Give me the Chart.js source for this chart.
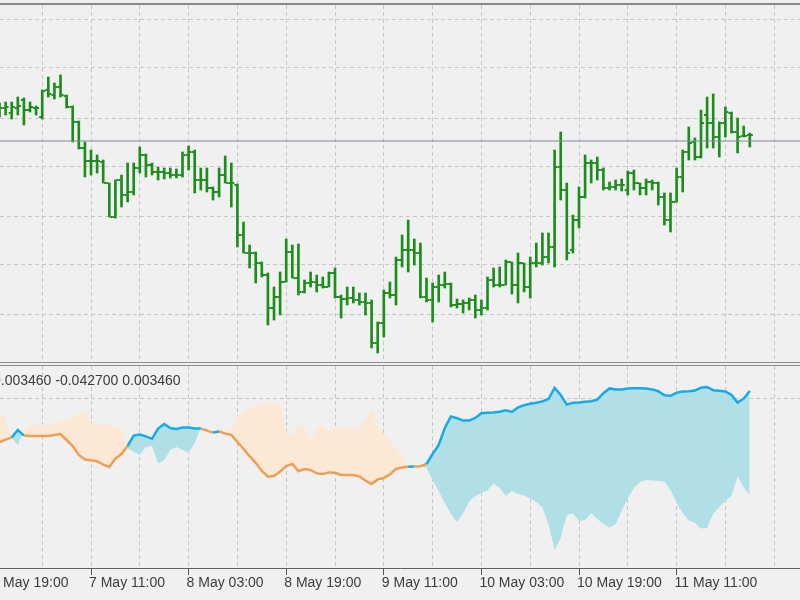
<!DOCTYPE html>
<html>
<head>
<meta charset="utf-8">
<script src="https://cdn.jsdelivr.net/npm/chart.js@4.4.1/dist/chart.umd.min.js"></script>
<style>
  body { margin: 0; background: #f0f0f0; }
  #wrap { position: relative; width: 800px; height: 600px; overflow: hidden; background: #f0f0f0; }
  .sep { position: absolute; left: 0; width: 800px; height: 1px; background: #8a8a8a; }
  canvas { position: absolute; left: 0; }
  #indLabel { position: absolute; left: -7px; top: 373px; font: 14px "Liberation Sans", Arial, sans-serif; line-height: 14px; color: #3c3c3c; white-space: nowrap; }
</style>
</head>
<body>
<div id="wrap">
  <div class="sep" style="top:3px;height:2px"></div>
  <canvas id="priceChart" width="800" height="357" style="top:5px"></canvas>
  <div class="sep" style="top:362px"></div>
  <div class="sep" style="top:365px"></div>
  <canvas id="indChart" width="800" height="234" style="top:366px"></canvas>
  <div id="indLabel">0.003460 -0.042700 0.003460</div>
</div>
<script>
// H1 bars, x = hours counted from 7 May 11:00
var FIRST_HOUR = -15;

var opens = [
  1.10288, 1.10292, 1.10287, 1.10292, 1.10300, 1.10290, 1.10292, 1.10283, 1.10310, 1.10305,
  1.10313, 1.10304, 1.10293, 1.10278, 1.10252, 1.10239, 1.10239, 1.10238, 1.10217, 1.10183,
  1.10220, 1.10205, 1.10208, 1.10232, 1.10245, 1.10235, 1.10228, 1.10228, 1.10227, 1.10225,
  1.10225, 1.10245, 1.10248, 1.10220, 1.10220, 1.10212, 1.10208, 1.10225, 1.10217, 1.10215,
  1.10165, 1.10147, 1.10147, 1.10137, 1.10125, 1.10092, 1.10103, 1.10118, 1.10148, 1.10122,
  1.10108, 1.10117, 1.10118, 1.10115, 1.10113, 1.10127, 1.10103, 1.10101, 1.10102, 1.10100,
  1.10098, 1.10097, 1.10057, 1.10077, 1.10107, 1.10105, 1.10140, 1.10150, 1.10150, 1.10147,
  1.10103, 1.10100, 1.10113, 1.10115, 1.10116, 1.10095, 1.10096, 1.10097, 1.10100, 1.10090,
  1.10092, 1.10120, 1.10115, 1.10115, 1.10138, 1.10115, 1.10137, 1.10113, 1.10137, 1.10137,
  1.10143, 1.10153, 1.10233, 1.10210, 1.10150, 1.10180, 1.10203, 1.10237, 1.10237, 1.10230,
  1.10212, 1.10213, 1.10215, 1.10210, 1.10227, 1.10217, 1.10212, 1.10218, 1.10217, 1.10203,
  1.10180, 1.10198, 1.10223, 1.10248, 1.10258, 1.10243, 1.10285, 1.10277, 1.10263, 1.10277,
  1.10287, 1.10268, 1.10264, 1.10265
];
var highs = [
  1.10297, 1.10298, 1.10298, 1.10303, 1.10302, 1.10298, 1.10294, 1.10310, 1.10323, 1.10317,
  1.10325, 1.10305, 1.10294, 1.10279, 1.10258, 1.10250, 1.10245, 1.10240, 1.10217, 1.10220,
  1.10225, 1.10237, 1.10237, 1.10253, 1.10246, 1.10237, 1.10233, 1.10232, 1.10232, 1.10231,
  1.10248, 1.10254, 1.10250, 1.10232, 1.10232, 1.10213, 1.10232, 1.10244, 1.10237, 1.10216,
  1.10178, 1.10155, 1.10148, 1.10138, 1.10127, 1.10113, 1.10128, 1.10161, 1.10155, 1.10156,
  1.10120, 1.10128, 1.10125, 1.10123, 1.10128, 1.10132, 1.10105, 1.10113, 1.10113, 1.10107,
  1.10107, 1.10100, 1.10078, 1.10110, 1.10118, 1.10143, 1.10165, 1.10180, 1.10161, 1.10157,
  1.10122, 1.10117, 1.10125, 1.10128, 1.10117, 1.10101, 1.10100, 1.10102, 1.10105, 1.10100,
  1.10123, 1.10132, 1.10133, 1.10140, 1.10138, 1.10147, 1.10137, 1.10143, 1.10157, 1.10167,
  1.10167, 1.10250, 1.10268, 1.10217, 1.10185, 1.10213, 1.10245, 1.10240, 1.10243, 1.10232,
  1.10218, 1.10220, 1.10221, 1.10229, 1.10230, 1.10217, 1.10221, 1.10220, 1.10218, 1.10207,
  1.10207, 1.10232, 1.10250, 1.10273, 1.10262, 1.10290, 1.10303, 1.10306, 1.10278, 1.10293,
  1.10288, 1.10282, 1.10274, 1.10267
];
var lows = [
  1.10283, 1.10285, 1.10281, 1.10285, 1.10275, 1.10288, 1.10285, 1.10281, 1.10303, 1.10301,
  1.10303, 1.10292, 1.10258, 1.10251, 1.10223, 1.10225, 1.10227, 1.10217, 1.10183, 1.10182,
  1.10193, 1.10198, 1.10205, 1.10227, 1.10223, 1.10225, 1.10220, 1.10221, 1.10222, 1.10222,
  1.10223, 1.10230, 1.10207, 1.10210, 1.10208, 1.10200, 1.10203, 1.10217, 1.10193, 1.10153,
  1.10147, 1.10132, 1.10117, 1.10123, 1.10075, 1.10080, 1.10085, 1.10118, 1.10122, 1.10105,
  1.10107, 1.10113, 1.10108, 1.10112, 1.10113, 1.10102, 1.10082, 1.10095, 1.10097, 1.10095,
  1.10085, 1.10052, 1.10047, 1.10063, 1.10102, 1.10095, 1.10133, 1.10128, 1.10135, 1.10102,
  1.10098, 1.10078, 1.10098, 1.10112, 1.10093, 1.10092, 1.10087, 1.10090, 1.10082, 1.10085,
  1.10090, 1.10113, 1.10113, 1.10115, 1.10106, 1.10097, 1.10108, 1.10102, 1.10133, 1.10135,
  1.10137, 1.10133, 1.10200, 1.10140, 1.10147, 1.10172, 1.10202, 1.10217, 1.10220, 1.10210,
  1.10210, 1.10210, 1.10209, 1.10205, 1.10210, 1.10205, 1.10205, 1.10210, 1.10195, 1.10175,
  1.10168, 1.10198, 1.10208, 1.10240, 1.10240, 1.10242, 1.10252, 1.10252, 1.10243, 1.10263,
  1.10267, 1.10247, 1.10263, 1.10253
];
var closes = [
  1.10292, 1.10293, 1.10293, 1.10294, 1.10290, 1.10293, 1.10292, 1.10309, 1.10306, 1.10313,
  1.10305, 1.10293, 1.10278, 1.10252, 1.10239, 1.10239, 1.10239, 1.10217, 1.10183, 1.10220,
  1.10205, 1.10208, 1.10232, 1.10245, 1.10235, 1.10228, 1.10228, 1.10227, 1.10225, 1.10225,
  1.10245, 1.10248, 1.10220, 1.10220, 1.10212, 1.10208, 1.10225, 1.10217, 1.10217, 1.10165,
  1.10147, 1.10147, 1.10137, 1.10125, 1.10092, 1.10103, 1.10118, 1.10148, 1.10122, 1.10108,
  1.10117, 1.10118, 1.10115, 1.10113, 1.10127, 1.10103, 1.10101, 1.10102, 1.10100, 1.10098,
  1.10097, 1.10057, 1.10077, 1.10107, 1.10105, 1.10140, 1.10150, 1.10150, 1.10147, 1.10103,
  1.10100, 1.10113, 1.10115, 1.10116, 1.10095, 1.10096, 1.10097, 1.10100, 1.10090, 1.10092,
  1.10120, 1.10115, 1.10115, 1.10138, 1.10115, 1.10137, 1.10113, 1.10137, 1.10137, 1.10143,
  1.10153, 1.10233, 1.10210, 1.10147, 1.10180, 1.10203, 1.10237, 1.10237, 1.10230, 1.10212,
  1.10213, 1.10215, 1.10215, 1.10227, 1.10217, 1.10212, 1.10218, 1.10217, 1.10203, 1.10180,
  1.10198, 1.10223, 1.10248, 1.10257, 1.10243, 1.10277, 1.10277, 1.10263, 1.10277, 1.10288,
  1.10268, 1.10263, 1.10264, 1.10265
];

// indicator: main line and the band it is filled against
var indMain = [
  -0.0220, -0.0208, -0.0197, -0.0160, -0.0188, -0.0190, -0.0190, -0.0190, -0.0190, -0.0185,
  -0.0180, -0.0210, -0.0240, -0.0285, -0.0308, -0.0311, -0.0316, -0.0333, -0.0345, -0.0303,
  -0.0280, -0.0240, -0.0188, -0.0183, -0.0192, -0.0204, -0.0153, -0.0130, -0.0150, -0.0155,
  -0.0147, -0.0148, -0.0152, -0.0153, -0.0163, -0.0173, -0.0167, -0.0178, -0.0185, -0.0220,
  -0.0255, -0.0291, -0.0324, -0.0365, -0.0393, -0.0390, -0.0368, -0.0340, -0.0330, -0.0366,
  -0.0355, -0.0360, -0.0377, -0.0380, -0.0372, -0.0374, -0.0385, -0.0385, -0.0385, -0.0392,
  -0.0413, -0.0430, -0.0407, -0.0400, -0.0382, -0.0355, -0.0347, -0.0344, -0.0343, -0.0341,
  -0.0330, -0.0280, -0.0235, -0.0150, -0.0092, -0.0101, -0.0113, -0.0113, -0.0100, -0.0076,
  -0.0074, -0.0072, -0.0069, -0.0062, -0.0070, -0.0047, -0.0036, -0.0029, -0.0024, -0.0017,
  -0.0005, 0.0050, 0.0015, -0.0033, -0.0024, -0.0022, -0.0019, -0.0016, -0.0008, 0.0024,
  0.0048, 0.0043, 0.0042, 0.0048, 0.0049, 0.0049, 0.0047, 0.0043, 0.0034, 0.0014,
  0.0011, 0.0026, 0.0033, 0.0034, 0.0037, 0.0052, 0.0055, 0.0039, 0.0036, 0.0033,
  0.0015, -0.0023, -0.0003, 0.0035
];
var indBand = [
  -0.0070, -0.0100, -0.0200, -0.0235, -0.0160, -0.0135, -0.0135, -0.0135, -0.0135, -0.0130,
  -0.0120, -0.0110, -0.0100, -0.0075, -0.0069, -0.0125, -0.0135, -0.0135, -0.0135, -0.0140,
  -0.0150, -0.0250, -0.0269, -0.0285, -0.0245, -0.0240, -0.0327, -0.0310, -0.0260, -0.0245,
  -0.0260, -0.0274, -0.0225, -0.0150, -0.0152, -0.0180, -0.0150, -0.0169, -0.0160, -0.0094,
  -0.0069, -0.0052, -0.0035, -0.0030, -0.0025, -0.0020, -0.0030, -0.0165, -0.0190, -0.0125,
  -0.0150, -0.0210, -0.0160, -0.0125, -0.0170, -0.0145, -0.0148, -0.0152, -0.0158, -0.0145,
  -0.0105, -0.0060, -0.0150, -0.0178, -0.0215, -0.0250, -0.0290, -0.0348, -0.0340, -0.0338,
  -0.0350, -0.0410, -0.0465, -0.0525, -0.0580, -0.0620, -0.0578, -0.0518, -0.0490, -0.0475,
  -0.0463, -0.0428, -0.0450, -0.0490, -0.0465, -0.0480, -0.0488, -0.0503, -0.0520, -0.0548,
  -0.0630, -0.0760, -0.0700, -0.0585, -0.0578, -0.0615, -0.0610, -0.0575, -0.0605, -0.0630,
  -0.0649, -0.0630, -0.0565, -0.0500, -0.0450, -0.0420, -0.0410, -0.0413, -0.0415, -0.0418,
  -0.0460, -0.0525, -0.0575, -0.0613, -0.0624, -0.0653, -0.0650, -0.0578, -0.0545, -0.0515,
  -0.0490, -0.0393, -0.0448, -0.0485
];

var gridHours = [-16, -8, 0, 8, 16, 24, 32, 40, 48, 56, 64, 72, 80, 88, 96, 104, 112];
var timeLabels = {
  '-16': '6 May 19:00', '0': '7 May 11:00', '16': '8 May 03:00', '32': '8 May 19:00',
  '48': '9 May 11:00', '64': '10 May 03:00', '80': '10 May 19:00', '96': '11 May 11:00'
};
var priceGrid = [1.10381, 1.10332, 1.10282, 1.10233, 1.10184, 1.10135, 1.10085];
var levelPrice = 1.10259;
var indGrid = [0];

var X_MIN = -14.92, X_MAX = 116.23;
var GREEN = '#1c8c1c';
var GRID = '#c6c6c6';
var DASH = [4, 3];
var BLUE = '#16aae6';
var ORANGE = '#ef9f55';
var PEACH = '#fbe9d6';
var POWDER = '#b0e0e6';

var hours = opens.map(function(_, i) { return FIRST_HOUR + i; });

Chart.defaults.font.family = 'Liberation Sans';

function setTicks(list) {
  return function(axis) {
    axis.ticks = list.map(function(v) { return {value: v}; });
  };
}

// axis fills the whole canvas edge to edge, like the terminal window
function noPad(size) {
  return function(a) {
    if (a.isHorizontal()) { a.height = size; } else { a.width = size; }
    a.paddingLeft = 0; a.paddingRight = 0; a.paddingTop = 0; a.paddingBottom = 0;
  };
}

var common = {
  responsive: false,
  animation: false,
  events: [],
  layout: { padding: 0, autoPadding: false },
  plugins: { legend: { display: false }, tooltip: { enabled: false } }
};

new Chart(document.getElementById('priceChart'), {
  type: 'scatter',
  data: {
    datasets: [
      {
        type: 'line',
        data: [{x: X_MIN, y: levelPrice}, {x: X_MAX, y: levelPrice}],
        borderColor: '#7d889a', borderWidth: 1, pointRadius: 0
      },
      {
        type: 'bar',
        data: hours.map(function(h, i) { return {x: h, y: [lows[i], highs[i]]}; }),
        backgroundColor: GREEN, borderWidth: 0, barThickness: 2, grouped: false
      },
      {
        data: hours.map(function(h, i) { return {x: h - 0.33, y: opens[i]}; }),
        pointStyle: 'line', radius: 1, borderColor: GREEN, borderWidth: 2
      },
      {
        data: hours.map(function(h, i) { return {x: h + 0.33, y: closes[i]}; }),
        pointStyle: 'line', radius: 1, borderColor: GREEN, borderWidth: 2
      }
    ]
  },
  options: Object.assign({}, common, {
    scales: {
      x: {
        type: 'linear', min: X_MIN, max: X_MAX, offset: false,
        afterBuildTicks: setTicks(gridHours),
        afterFit: noPad(0),
        ticks: { display: false },
        grid: { color: GRID, drawTicks: false, offset: false },
        border: { display: false, dash: DASH }
      },
      y: {
        type: 'linear', min: 1.10038, max: 1.10395,
        afterBuildTicks: setTicks(priceGrid),
        afterFit: noPad(0),
        ticks: { display: false },
        grid: { color: GRID, drawTicks: false },
        border: { display: false, dash: DASH }
      }
    }
  })
});

new Chart(document.getElementById('indChart'), {
  type: 'line',
  data: {
    datasets: [
      {
        data: hours.map(function(h, i) { return {x: h, y: indMain[i]}; }),
        borderColor: ORANGE, borderWidth: 2.5, pointRadius: 0, fill: false,
        segment: {
          borderColor: function(ctx) {
            return indBand[ctx.p0DataIndex] < indMain[ctx.p0DataIndex] ? BLUE : ORANGE;
          }
        }
      },
      {
        data: hours.map(function(h, i) { return {x: h, y: indBand[i]}; }),
        borderColor: 'rgba(0,0,0,0)', borderWidth: 0, pointRadius: 0,
        fill: { target: 0, above: PEACH, below: POWDER }
      }
    ]
  },
  options: Object.assign({}, common, {
    scales: {
      x: {
        type: 'linear', min: X_MIN, max: X_MAX, offset: false,
        afterBuildTicks: setTicks(gridHours),
        afterFit: noPad(32),
        ticks: {
          autoSkip: false, maxRotation: 0, minRotation: 0, align: 'start',
          labelOffset: -2, padding: 0, color: '#3c3c3c',
          font: { family: 'Liberation Sans', size: 14 },
          callback: function(v) { return timeLabels[v] || ''; }
        },
        grid: {
          color: GRID, drawTicks: true, tickLength: 7, offset: false,
          tickColor: function(c) {
            return c.tick && timeLabels[c.tick.value] ? '#555555' : 'rgba(0,0,0,0)';
          }
        },
        border: { display: true, color: '#606060', dash: DASH }
      },
      y: {
        type: 'linear', min: -0.085, max: 0.016,
        afterBuildTicks: setTicks(indGrid),
        afterFit: noPad(0),
        ticks: { display: false },
        grid: { color: GRID, drawTicks: false },
        border: { display: false, dash: DASH }
      }
    }
  })
});
</script>
</body>
</html>
